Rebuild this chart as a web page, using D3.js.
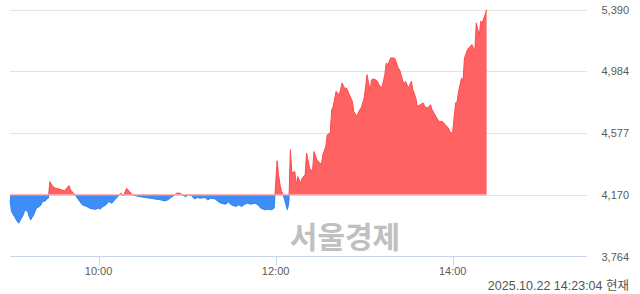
<!DOCTYPE html>
<html>
<head>
<meta charset="utf-8">
<script src="https://cdn.jsdelivr.net/npm/d3@7"></script>
<style>
html,body{margin:0;padding:0;background:#fff;}
svg{display:block;}
</style>
</head>
<body>
<svg id="chart" width="640" height="294"></svg>
<script>
const times = ["09:00","09:01","09:03","09:05","09:06","09:07","09:09","09:10","09:12","09:13","09:14","09:16","09:18","09:20","09:21","09:22","09:24","09:25","09:26","09:27","09:29","09:31","09:33","09:35","09:37","09:38","09:40","09:41","09:43","09:44","09:45","09:47","09:49","09:52","09:54","09:56","09:58","10:00","10:01","10:03","10:05","10:07","10:09","10:11","10:13","10:15","10:17","10:19","10:21","10:23","10:25","10:28","10:32","10:35","10:38","10:42","10:45","10:47","10:49","10:51","10:53","10:55","10:57","10:59","11:01","11:03","11:05","11:07","11:09","11:12","11:14","11:16","11:19","11:21","11:23","11:26","11:28","11:30","11:33","11:35","11:37","11:39","11:41","11:43","11:46","11:48","11:50","11:53","11:55","11:57","11:59","12:01","12:02","12:03","12:04","12:05","12:06","12:08","12:09","12:10","12:11","12:13","12:14","12:15","12:17","12:18","12:20","12:21","12:23","12:25","12:26","12:28","12:29","12:31","12:32","12:34","12:35","12:37","12:38","12:39","12:41","12:43","12:44","12:45","12:47","12:48","12:50","12:52","12:53","12:55","12:57","12:58","13:00","13:01","13:02","13:04","13:05","13:07","13:09","13:10","13:12","13:14","13:15","13:16","13:18","13:20","13:21","13:23","13:24","13:26","13:27","13:28","13:30","13:32","13:33","13:35","13:36","13:38","13:40","13:41","13:43","13:45","13:46","13:48","13:50","13:51","13:53","13:55","13:57","13:58","13:59","14:00","14:02","14:03","14:04","14:06","14:07","14:08","14:10","14:11","14:13","14:15","14:16","14:18","14:19","14:20","14:22","14:23"];
const prices = [4135,4060,4027,3994,3983,4005,4038,4071,4060,4027,4005,4038,4084,4093,4104,4126,4130,4143,4148,4257,4224,4213,4209,4203,4196,4209,4231,4203,4181,4170,4158,4130,4104,4093,4082,4077,4075,4082,4075,4093,4104,4126,4115,4137,4158,4181,4165,4213,4192,4170,4165,4158,4152,4148,4143,4137,4130,4137,4152,4165,4181,4181,4170,4158,4170,4165,4143,4152,4148,4152,4137,4148,4143,4126,4115,4108,4122,4104,4093,4104,4093,4108,4115,4108,4115,4104,4082,4071,4075,4071,4082,4394,4300,4236,4192,4175,4140,4071,4120,4467,4315,4323,4236,4290,4247,4280,4302,4445,4346,4323,4455,4401,4390,4368,4434,4488,4565,4577,4730,4752,4851,4829,4862,4906,4867,4874,4829,4785,4719,4686,4730,4742,4808,4884,4961,4851,4928,4933,4917,4895,4874,4961,5038,5027,5071,5071,5065,5005,4994,4928,4895,4917,4874,4917,4862,4808,4752,4763,4775,4752,4742,4763,4730,4697,4664,4653,4653,4631,4610,4587,4577,4587,4775,4785,4851,4939,4917,5071,5126,5137,5159,5115,5302,5214,5313,5302,5357,5390];
const baseValue = 4170;
const yTicks = [3764, 4170, 4577, 4984, 5390];
const xTickLabels = ["10:00","12:00","14:00"];
const sessionStart = "09:00";
const sessionEnd = "15:30";
const stampText = "2025.10.22 14:23:04 현재";
const watermark = "서울경제";

const parse = d3.timeParse("%H:%M");
const data = times.map((t, i) => ({t: parse(t), v: prices[i]}));

const svg = d3.select("#chart");
const x = d3.scaleTime().domain([parse(sessionStart), parse(sessionEnd)]).range([10, 585.5]);
const y = d3.scaleLinear().domain([3764, 5390]).range([256.5, 9.5]);
const font = "'Liberation Sans', Arial, 'Noto Sans CJK KR', sans-serif";

// gridlines
svg.append("g").selectAll("line").data(yTicks.filter(d => d !== 3764)).join("line")
  .attr("x1", 10).attr("x2", 587)
  .attr("y1", d => Math.round(y(d)) + 0.5).attr("y2", d => Math.round(y(d)) + 0.5)
  .attr("stroke", "#e3e3e3").attr("stroke-width", 1);

// y labels
svg.append("g").selectAll("text").data(yTicks).join("text")
  .attr("x", 629).attr("y", d => y(d))
  .attr("text-anchor", "end").attr("dominant-baseline", "central")
  .attr("font-family", font).attr("font-size", 11).attr("fill", "#5a5a5a")
  .text(d => d3.format(",")(d));

// watermark
svg.append("text").attr("x", 345).attr("y", 235)
  .attr("text-anchor", "middle").attr("dominant-baseline", "central")
  .attr("font-family", "'Noto Sans CJK KR', sans-serif").attr("font-weight", "bold")
  .attr("font-size", 30).attr("fill", "#c0c0c0").text(watermark);

// x axis
const xAxisG = svg.append("g").attr("transform", "translate(0,256.5)");
xAxisG.append("line").attr("x1", 10).attr("x2", 587).attr("y1", 0).attr("y2", 0)
  .attr("stroke", "#c9d5ea").attr("stroke-width", 1);
const xt = xTickLabels.map(parse);
xAxisG.selectAll("line.tick").data(xt).join("line").attr("class", "tick")
  .attr("x1", d => Math.round(x(d)) + 0.5).attr("x2", d => Math.round(x(d)) + 0.5)
  .attr("y1", 0).attr("y2", 9).attr("stroke", "#c9d5ea");
xAxisG.selectAll("text").data(xt).join("text")
  .attr("x", d => x(d)).attr("y", 18.5)
  .attr("text-anchor", "middle")
  .attr("font-family", font).attr("font-size", 11).attr("fill", "#5a5a5a")
  .text(d => d3.timeFormat("%H:%M")(d));

// clip paths
const by = y(baseValue);
const defs = svg.append("defs");
defs.append("clipPath").attr("id", "above").append("rect")
  .attr("x", 0).attr("y", 0).attr("width", 640).attr("height", by);
defs.append("clipPath").attr("id", "below").append("rect")
  .attr("x", 0).attr("y", by).attr("width", 640).attr("height", 294 - by);

const area = d3.area().x(d => x(d.t)).y0(by).y1(d => y(d.v));
const line = d3.line().x(d => x(d.t)).y(d => y(d.v));

svg.append("path").datum(data).attr("d", area).attr("clip-path", "url(#above)")
  .attr("fill", "#ff6262");
svg.append("path").datum(data).attr("d", area).attr("clip-path", "url(#below)")
  .attr("fill", "#3f8ef7");
svg.append("path").datum(data).attr("d", line).attr("clip-path", "url(#above)")
  .attr("fill", "none").attr("stroke", "#ff4a4a").attr("stroke-width", 1);
svg.append("path").datum(data).attr("d", line).attr("clip-path", "url(#below)")
  .attr("fill", "none").attr("stroke", "#2f80f0").attr("stroke-width", 1);

// baseline
svg.append("line")
  .attr("x1", x(data[0].t)).attr("x2", x(data[data.length - 1].t))
  .attr("y1", by).attr("y2", by)
  .attr("stroke", "#ffa3a3").attr("stroke-width", 1.2);

// timestamp
svg.append("text").attr("x", 629).attr("y", 289.5)
  .attr("text-anchor", "end")
  .attr("font-family", font).attr("font-size", 12.5).attr("fill", "#555")
  .text(stampText);
</script>
</body>
</html>
